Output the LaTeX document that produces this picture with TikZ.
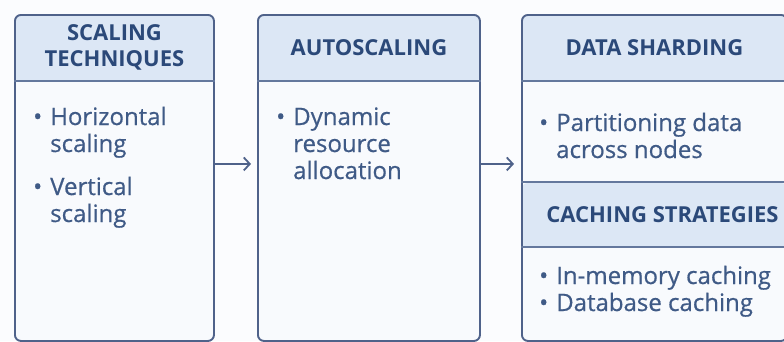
\documentclass[tikz,border=0pt]{standalone}
\usepackage{fontspec}
\setmainfont{Open Sans}
\newfontfamily\itemfont[FakeBold=0.6]{Open Sans}
\usetikzlibrary{positioning, arrows.meta}

\definecolor{pagebg}{HTML}{FBFCFE}
\definecolor{bodyfill}{HTML}{F8FAFD}
\definecolor{headfill}{HTML}{DCE7F5}
\definecolor{edgeblue}{HTML}{4F628A}
\definecolor{sepblue}{HTML}{64789D}
\definecolor{headblue}{HTML}{2B4979}
\definecolor{itemblue}{HTML}{3F5A86}

\tikzset{
  panel/.style={draw=edgeblue, line width=1.9pt, fill=bodyfill, rounded corners=6pt,
    anchor=north west, minimum height=326pt, inner sep=0pt,
    path picture={\fill[headfill] (path picture bounding box.north west)
      rectangle ([yshift=-67pt]path picture bounding box.north east);}},
  twobands/.style={path picture={
    \fill[headfill] (path picture bounding box.north west)
      rectangle ([yshift=-67pt]path picture bounding box.north east);
    \fill[headfill] ([yshift=-168pt]path picture bounding box.north west)
      rectangle ([yshift=-233pt]path picture bounding box.north east);}},
  sepline/.style={draw=sepblue, line width=2.4pt},
  headtext/.style={font=\bfseries\fontsize{22}{26}\selectfont, text=headblue, align=center},
  itemlist/.style={font=\itemfont\fontsize{24}{27}\selectfont, text=itemblue, anchor=base west, inner sep=0pt},
  flow/.style={-{Straight Barb[length=6pt, width=13pt, line width=1.8pt]}, line width=1.8pt, draw=edgeblue},
}

\begin{document}
\begin{tikzpicture}[x=1pt, y=-1pt]
\useasboundingbox[fill=pagebg] (0,0) rectangle (784,341);
\clip (0,0) rectangle (784,341);

% panels
\node[panel, minimum width=199pt] (tech) at (14,14) {};
\node[panel, minimum width=222pt] (auto) at (257,14) {};
\node[panel, twobands, minimum width=265pt] (data) at (521,14) {};

% header rules
\draw[sepline] ([yshift=-67pt]tech.north west) -- ([yshift=-67pt]tech.north east);
\draw[sepline] ([yshift=-67pt]auto.north west) -- ([yshift=-67pt]auto.north east);
\draw[sepline] ([yshift=-67pt]data.north west) -- ([yshift=-67pt]data.north east);
\draw[sepline] ([yshift=-168pt]data.north west) -- ([yshift=-168pt]data.north east);
\draw[sepline] ([yshift=-233pt]data.north west) -- ([yshift=-233pt]data.north east);

% titles
\node[headtext] (techtitle) at ([yshift=-33.5pt]tech.north) {SCALING\\TECHNIQUES};
\node[headtext] (autotitle) at ([yshift=-33.5pt]auto.north) {AUTOSCALING};
\node[headtext] (datatitle) at ([yshift=-33.5pt]data.north) {DATA SHARDING};
\node[headtext] (cachetitle) at ([xshift=8pt, yshift=-200.5pt]data.north) {CACHING STRATEGIES};

% items
\node[itemlist] (techitems) at (33,125) {\begin{tabular}[t]{@{}l@{\hspace{8pt}}l@{}}
  \textbullet & Horizontal\\ & scaling\\[16pt]
  \textbullet & Vertical\\ & scaling\end{tabular}};
\node[itemlist] (autoitems) at (276,125) {\begin{tabular}[t]{@{}l@{\hspace{8pt}}l@{}}
  \textbullet & Dynamic\\ & resource\\ & allocation\end{tabular}};
\node[itemlist] (dataitems) at (539,131) {\begin{tabular}[t]{@{}l@{\hspace{8pt}}l@{}}
  \textbullet & Partitioning data\\ & across nodes\end{tabular}};
\node[itemlist] (cacheitems) at (539,284) {\begin{tabular}[t]{@{}l@{\hspace{8pt}}l@{}}
  \textbullet & In-memory caching\\
  \textbullet & Database caching\end{tabular}};

% flow
\draw[flow] ([yshift=14pt]tech.east) -- ([xshift=-6pt, yshift=14pt]auto.west);
\draw[flow] ([yshift=14pt]auto.east) -- ([xshift=-7pt, yshift=14pt]data.west);
\end{tikzpicture}
\end{document}
